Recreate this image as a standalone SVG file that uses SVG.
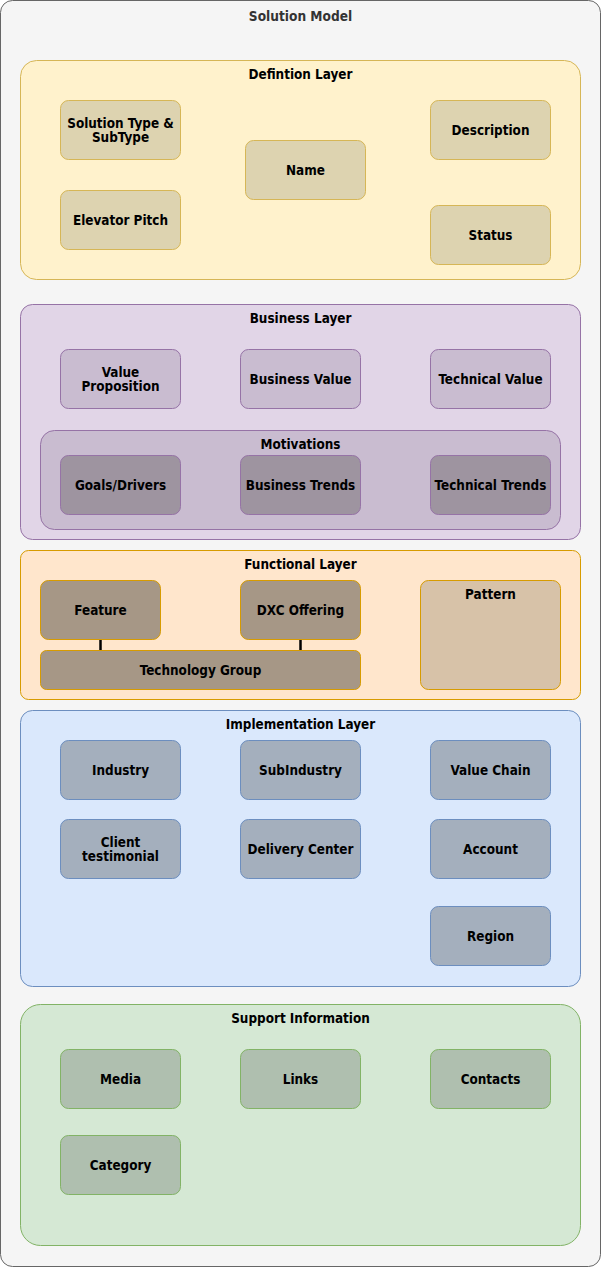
<svg xmlns="http://www.w3.org/2000/svg" width="601" height="1267" viewBox="0 0 601 1267">
  <style>
    text { font-family: "DejaVu Sans Condensed", "DejaVu Sans", sans-serif; font-stretch: condensed; font-weight: bold; font-size: 13.4px; text-anchor: middle; fill: #000; }
    .title { font-size: 13.6px; fill: #333333; }
    .def-layer { fill: #fff2cc; stroke: #d6b656; }
    .def-node { fill: #ddd3b0; stroke: #d6b656; }
    .bus-layer { fill: #e1d5e7; stroke: #9673a6; }
    .bus-node { fill: #c9bcd0; stroke: #9673a6; }
    .mot-node { fill: #9e94a0; stroke: #9673a6; }
    .fun-layer { fill: #ffe6cc; stroke: #d79b00; }
    .fun-node { fill: #a69786; stroke: #d79b00; }
    .pat-node { fill: #d7c2a8; stroke: #d79b00; }
    .imp-layer { fill: #dae8fc; stroke: #6c8ebf; }
    .imp-node { fill: #a4afbd; stroke: #6c8ebf; }
    .sup-layer { fill: #d5e8d4; stroke: #82b366; }
    .sup-node { fill: #afbfaf; stroke: #82b366; }
    .link { stroke: #000; stroke-width: 2.5; fill: none; }
  </style>

  <!-- outer frame -->
  <g id="solution-model">
    <rect x="0.5" y="0.5" width="600" height="1266" rx="12" fill="#f5f5f5" stroke="#666666"/>
    <text class="title" x="300.5" y="21">Solution Model</text>
  </g>

  <!-- Definition layer -->
  <g id="definition-layer">
    <rect class="def-layer" x="20.5" y="60.5" width="560" height="219" rx="16"/>
    <text x="300.5" y="79">Defintion Layer</text>
  </g>
  <g id="solution-type">
    <rect class="def-node" x="60.5" y="100.5" width="120" height="59" rx="8"/>
    <text x="120.5" y="128">Solution Type &amp;</text>
    <text x="120.5" y="142">SubType</text>
  </g>
  <g id="elevator-pitch">
    <rect class="def-node" x="60.5" y="190.5" width="120" height="59" rx="8"/>
    <text x="120.5" y="225">Elevator Pitch</text>
  </g>
  <g id="name">
    <rect class="def-node" x="245.5" y="140.5" width="120" height="59" rx="8"/>
    <text x="305.5" y="175">Name</text>
  </g>
  <g id="description">
    <rect class="def-node" x="430.5" y="100.5" width="120" height="59" rx="8"/>
    <text x="490.5" y="135">Description</text>
  </g>
  <g id="status">
    <rect class="def-node" x="430.5" y="205.5" width="120" height="59" rx="8"/>
    <text x="490.5" y="240">Status</text>
  </g>

  <!-- Business layer -->
  <g id="business-layer">
    <rect class="bus-layer" x="20.5" y="304.5" width="560" height="235" rx="12"/>
    <text x="300.5" y="323">Business Layer</text>
  </g>
  <g id="value-proposition">
    <rect class="bus-node" x="60.5" y="349.5" width="120" height="59" rx="8"/>
    <text x="120.5" y="377">Value</text>
    <text x="120.5" y="391">Proposition</text>
  </g>
  <g id="business-value">
    <rect class="bus-node" x="240.5" y="349.5" width="120" height="59" rx="8"/>
    <text x="300.5" y="384">Business Value</text>
  </g>
  <g id="technical-value">
    <rect class="bus-node" x="430.5" y="349.5" width="120" height="59" rx="8"/>
    <text x="490.5" y="384">Technical Value</text>
  </g>
  <g id="motivations">
    <rect class="bus-node" x="40.5" y="430.5" width="520" height="99" rx="14"/>
    <text x="300.5" y="449">Motivations</text>
  </g>
  <g id="goals-drivers">
    <rect class="mot-node" x="60.5" y="455.5" width="120" height="59" rx="8"/>
    <text x="120.5" y="490">Goals/Drivers</text>
  </g>
  <g id="business-trends">
    <rect class="mot-node" x="240.5" y="455.5" width="120" height="59" rx="8"/>
    <text x="300.5" y="490">Business Trends</text>
  </g>
  <g id="technical-trends">
    <rect class="mot-node" x="430.5" y="455.5" width="120" height="59" rx="8"/>
    <text x="490.5" y="490">Technical Trends</text>
  </g>

  <!-- Functional layer -->
  <g id="functional-layer">
    <rect class="fun-layer" x="20.5" y="550.5" width="560" height="149" rx="8"/>
    <text x="300.5" y="569">Functional Layer</text>
  </g>

  <!-- connectors -->
  <g id="connectors">
    <line class="link" x1="100.5" y1="640" x2="100.5" y2="650"/>
    <line class="link" x1="300.5" y1="640" x2="300.5" y2="650"/>
  </g>

  <g id="feature">
    <rect class="fun-node" x="40.5" y="580.5" width="120" height="59" rx="8"/>
    <text x="100.5" y="615">Feature</text>
  </g>
  <g id="dxc-offering">
    <rect class="fun-node" x="240.5" y="580.5" width="120" height="59" rx="8"/>
    <text x="300.5" y="615">DXC Offering</text>
  </g>
  <g id="technology-group">
    <rect class="fun-node" x="40.5" y="650.5" width="320" height="39" rx="6"/>
    <text x="200.5" y="675">Technology Group</text>
  </g>
  <g id="pattern">
    <rect class="pat-node" x="420.5" y="580.5" width="140" height="109" rx="8"/>
    <text x="490.5" y="599">Pattern</text>
  </g>

  <!-- Implementation layer -->
  <g id="implementation-layer">
    <rect class="imp-layer" x="20.5" y="710.5" width="560" height="276" rx="12"/>
    <text x="300.5" y="729">Implementation Layer</text>
  </g>
  <g id="industry">
    <rect class="imp-node" x="60.5" y="740.5" width="120" height="59" rx="8"/>
    <text x="120.5" y="775">Industry</text>
  </g>
  <g id="subindustry">
    <rect class="imp-node" x="240.5" y="740.5" width="120" height="59" rx="8"/>
    <text x="300.5" y="775">SubIndustry</text>
  </g>
  <g id="value-chain">
    <rect class="imp-node" x="430.5" y="740.5" width="120" height="59" rx="8"/>
    <text x="490.5" y="775">Value Chain</text>
  </g>
  <g id="client-testimonial">
    <rect class="imp-node" x="60.5" y="819.5" width="120" height="59" rx="8"/>
    <text x="120.5" y="847">Client</text>
    <text x="120.5" y="861">testimonial</text>
  </g>
  <g id="delivery-center">
    <rect class="imp-node" x="240.5" y="819.5" width="120" height="59" rx="8"/>
    <text x="300.5" y="854">Delivery Center</text>
  </g>
  <g id="account">
    <rect class="imp-node" x="430.5" y="819.5" width="120" height="59" rx="8"/>
    <text x="490.5" y="854">Account</text>
  </g>
  <g id="region">
    <rect class="imp-node" x="430.5" y="906.5" width="120" height="59" rx="8"/>
    <text x="490.5" y="941">Region</text>
  </g>

  <!-- Support information -->
  <g id="support-information">
    <rect class="sup-layer" x="20.5" y="1004.5" width="560" height="241" rx="20"/>
    <text x="300.5" y="1023">Support Information</text>
  </g>
  <g id="media">
    <rect class="sup-node" x="60.5" y="1049.5" width="120" height="59" rx="8"/>
    <text x="120.5" y="1084">Media</text>
  </g>
  <g id="links">
    <rect class="sup-node" x="240.5" y="1049.5" width="120" height="59" rx="8"/>
    <text x="300.5" y="1084">Links</text>
  </g>
  <g id="contacts">
    <rect class="sup-node" x="430.5" y="1049.5" width="120" height="59" rx="8"/>
    <text x="490.5" y="1084">Contacts</text>
  </g>
  <g id="category">
    <rect class="sup-node" x="60.5" y="1135.5" width="120" height="59" rx="8"/>
    <text x="120.5" y="1170">Category</text>
  </g>
</svg>
